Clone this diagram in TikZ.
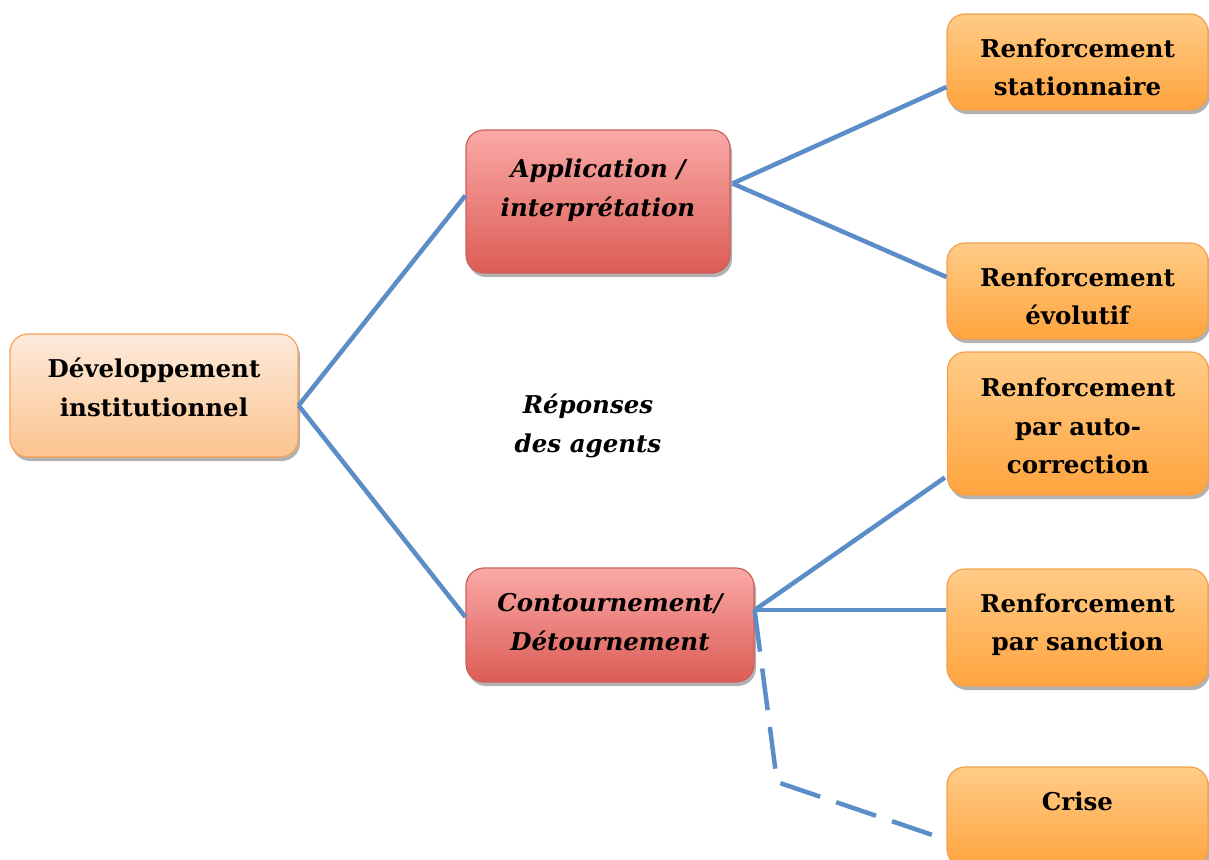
\documentclass[tikz,border=0pt]{standalone}
\usepackage{fontspec}
\setmainfont{DejaVu Serif}
\usetikzlibrary{shadows,calc}
\definecolor{linkblue}{HTML}{5B8DC8}
\definecolor{devtop}{HTML}{FDEADC}
\definecolor{devbot}{HTML}{FBC48E}
\definecolor{devdraw}{HTML}{F7A359}
\definecolor{redtop}{HTML}{FAA9A7}
\definecolor{redbot}{HTML}{DC5C55}
\definecolor{reddraw}{HTML}{CD5F5B}
\definecolor{ortop}{HTML}{FFCC88}
\definecolor{orbot}{HTML}{FFA43E}
\definecolor{ordraw}{HTML}{F3A04E}
\newcommand{\boxtext}[2]{\raisebox{#1}[0pt][0pt]{\begin{tabular}{@{}c@{}}#2\end{tabular}}}
\tikzset{
  boxbase/.style={rounded corners=18pt, line width=1.2pt, align=center, inner sep=0pt,
    font=\fontsize{24.5}{38.5}\selectfont\bfseries,
    drop shadow={shadow xshift=2pt, shadow yshift=-4pt, opacity=0.3, fill=black}},
  devbox/.style={boxbase, draw=devdraw, top color=devtop, bottom color=devbot},
  redbox/.style={boxbase, draw=reddraw, top color=redtop, bottom color=redbot,
    font=\fontsize{24.5}{38.5}\selectfont\bfseries\itshape},
  orbox/.style={boxbase, draw=ordraw, top color=ortop, bottom color=orbot},
  link/.style={draw=linkblue, line width=4.5pt},
  dlink/.style={link, dash pattern=on 42pt off 17pt}
}
\begin{document}
\begin{tikzpicture}[x=1pt,y=-1pt]
\useasboundingbox (0,0) rectangle (1209,859);
\node[devbox, minimum width=288pt, minimum height=123pt] (dev) at (154,395.5) {\boxtext{0pt}{Développement\\institutionnel}};
\node[redbox, minimum width=264pt, minimum height=143pt] (app) at (598,201.5) {\boxtext{6pt}{Application /\\interprétation}};
\node[redbox, minimum width=288pt, minimum height=114pt] (cont) at (610,625) {\boxtext{-4.5pt}{Contournement/\\Détournement}};
\node[orbox, minimum width=261pt, minimum height=96pt] (rs) at (1077.5,62) {\boxtext{-13pt}{Renforcement\\stationnaire}};
\node[orbox, minimum width=261pt, minimum height=96pt] (re) at (1077.5,291) {\boxtext{-13pt}{Renforcement\\évolutif}};
\node[orbox, minimum width=261pt, minimum height=143pt] (ra) at (1078,423.5) {\boxtext{-10.5pt}{Renforcement\\par auto-\\correction}};
\node[orbox, minimum width=261pt, minimum height=117pt] (rsa) at (1077.5,627.5) {\boxtext{-2.5pt}{Renforcement\\par sanction}};
\node[orbox, minimum width=261pt, minimum height=100pt] (cr) at (1077.5,817) {\boxtext{8pt}{Crise}};
\node[font=\fontsize{24.5}{38.5}\selectfont\bfseries\itshape, align=center] (rep) at (588,425.5) {\begin{tabular}{@{}c@{}}Réponses\\des agents\end{tabular}};
\coordinate (devp) at ($(dev.east)+(0,10)$);
\coordinate (appr) at ($(app.east)+(2,-18)$);
\coordinate (contr) at ($(cont.east)+(0,-15)$);
\coordinate (bend) at (777,782);
\draw[link] (devp) -- ($(app.west)+(0,-6)$);
\draw[link] (devp) -- ($(cont.west)+(0,-8)$);
\draw[link] (appr) -- ($(rs.west)+(0,25)$);
\draw[link] (appr) -- ($(re.west)+(0,-14)$);
\draw[link] (contr) -- ($(ra.west)+(-2,54)$);
\draw[link] (contr) -- ($(rsa.west)+(0,-17.5)$);
\draw[dlink] (contr) -- (bend) -- ($(cr.west)+(-11,19)$);
\end{tikzpicture}
\end{document}
